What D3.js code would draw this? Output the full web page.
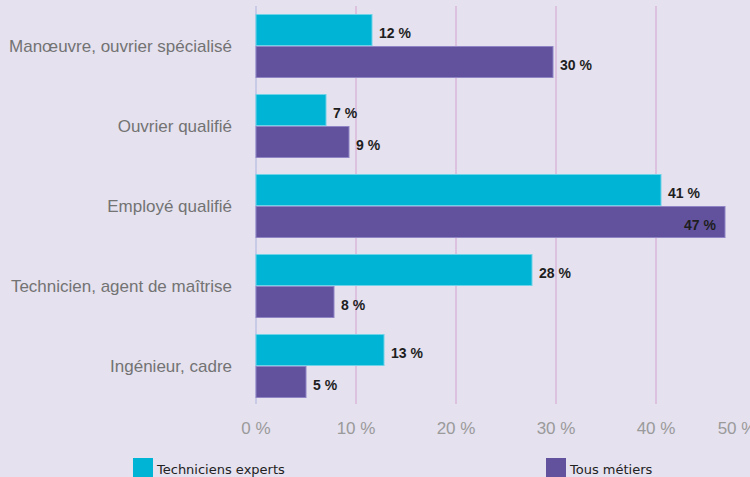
<!DOCTYPE html>
<html><head><meta charset="utf-8">
<script src="https://cdn.jsdelivr.net/npm/d3@7"></script>
<style>
html,body{margin:0;padding:0;background:#e5e1ef;overflow:hidden}
svg{display:block}
</style></head>
<body>
<svg id="chart" width="750" height="477"></svg>
<script>
const categories = ["Manœuvre, ouvrier spécialisé","Ouvrier qualifié","Employé qualifié","Technicien, agent de maîtrise","Ingénieur, cadre"];
const seriesNames = ["Techniciens experts","Tous métiers"];
const techniciensValues = [11.6, 7.0, 40.5, 27.6, 12.8];
const tousValues = [29.7, 9.3, 46.9, 7.8, 5.0];
const techniciensLabels = ["12 %","7 %","41 %","28 %","13 %"];
const tousLabels = ["30 %","9 %","47 %","8 %","5 %"];
const tickValues = [0,10,20,30,40,50];
const tickLabels = ["0 %","10 %","20 %","30 %","40 %","50 %"];
const colors = ["#00b4d5","#62529e"];
const strokes = ["#6fd3e8","#8f84c4"];

const svg = d3.select("#chart");
const x = d3.scaleLinear().domain([0,50]).range([256,756]);
const y = d3.scaleBand().domain(categories).range([6,406]).paddingInner(0.2).paddingOuter(0.1);
const sub = d3.scaleBand().domain(seriesNames).range([0,y.bandwidth()]);

// gridlines
svg.append("g").selectAll("line").data(tickValues.slice(1)).join("line")
  .attr("x1",d=>x(d)).attr("x2",d=>x(d)).attr("y1",6).attr("y2",404)
  .attr("stroke","#dcc2de").attr("stroke-width",2);
svg.append("line").attr("x1",x(0)).attr("x2",x(0)).attr("y1",6).attr("y2",404)
  .attr("stroke","#c9cbe6").attr("stroke-width",2);

const data = categories.map((c,i)=>({c, vals:[
  {s:seriesNames[0], v:techniciensValues[i], l:techniciensLabels[i]},
  {s:seriesNames[1], v:tousValues[i], l:tousLabels[i]}]}));

const g = svg.append("g").selectAll("g").data(data).join("g")
  .attr("transform",d=>`translate(0,${y(d.c)})`);
g.selectAll("rect").data(d=>d.vals).join("rect")
  .attr("x",x(0)).attr("y",d=>sub(d.s)+0.5)
  .attr("width",d=>x(d.v)-x(0)).attr("height",sub.bandwidth()-1)
  .attr("fill",(d,i)=>colors[i]).attr("stroke",(d,i)=>strokes[i]).attr("stroke-width",1);
g.selectAll("text").data(d=>d.vals).join("text")
  .attr("x",d=> d.v>45 ? x(d.v)-9 : x(d.v)+7)
  .attr("text-anchor",d=> d.v>45 ? "end" : "start")
  .attr("y",d=>sub(d.s)+sub.bandwidth()/2+8)
  .attr("font-family","Liberation Sans, Arial, sans-serif").attr("font-weight","bold")
  .attr("font-size",14).attr("fill","#1e1e1e").text(d=>d.l);

// category labels
svg.append("g").selectAll("text").data(categories).join("text")
  .attr("x",232).attr("y",d=>y(d)+y.bandwidth()/2+6)
  .attr("text-anchor","end").attr("font-family","Liberation Sans, Arial, sans-serif")
  .attr("font-size",17).attr("fill","#737373").text(d=>d);

// x tick labels
svg.append("g").selectAll("text").data(tickValues).join("text")
  .attr("x",d=>Math.min(x(d), 737)).attr("y",434).attr("text-anchor","middle")
  .attr("font-family","Liberation Sans, Arial, sans-serif").attr("font-size",17)
  .attr("fill","#9a9a9a").text((d,i)=>tickLabels[i]);

// legend
const legX = [133,546];
const leg = svg.append("g").selectAll("g").data(seriesNames).join("g")
  .attr("transform",(d,i)=>`translate(${legX[i]},458)`);
leg.append("rect").attr("width",20).attr("height",19).attr("fill",(d,i)=>colors[i]);
leg.append("text").attr("x",24).attr("y",16).attr("font-family","DejaVu Sans, sans-serif")
  .attr("font-size",13).attr("fill","#222").text(d=>d);
</script>
</body></html>
